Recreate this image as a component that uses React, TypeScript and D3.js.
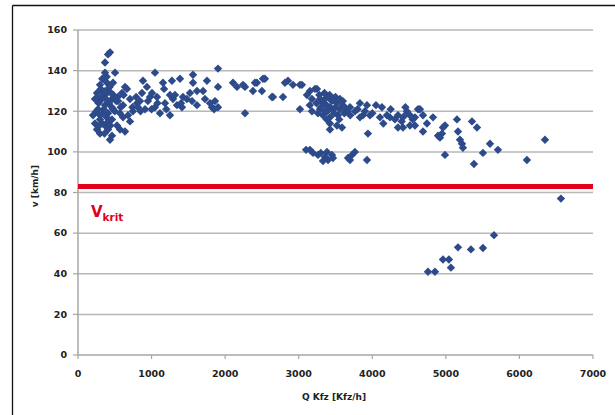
import React from 'react';
import * as d3 from 'd3';

// Q Kfz [Kfz/h], v [km/h] pairs, grouped by region
const lowFlow: [number, number][] = [
  [435, 149], [408, 148], [367, 144], [367, 139], [503, 139], [340, 136], [394, 134], [476, 134],
  [299, 133], [666, 131], [326, 130], [408, 130], [258, 129], [367, 128], [598, 129], [231, 126],
  [462, 126], [544, 125], [299, 125], [707, 126], [367, 123], [612, 123], [802, 124], [883, 135],
  [937, 132], [870, 129], [978, 127], [272, 121], [476, 121], [408, 119], [204, 118], [571, 119],
  [747, 120], [911, 121], [299, 116], [462, 116], [612, 117], [707, 115], [231, 114], [367, 113],
  [530, 113], [408, 111], [571, 111], [258, 111], [639, 110], [462, 108], [435, 106], [299, 109],
  [280, 124], [320, 127], [350, 121], [390, 117], [420, 124], [450, 129], [300, 118], [330, 114],
  [370, 130], [440, 113], [500, 120], [520, 125], [250, 120], [270, 127], [310, 131], [340, 119],
  [380, 126], [410, 115], [430, 132], [480, 128], [360, 109], [330, 136], [290, 113], [390, 137],
  [460, 122], [540, 127], [580, 122], [620, 128], [680, 118], [740, 122], [790, 127], [850, 120],
  [639, 132], [843, 125], [815, 122], [950, 125],
];

const midFlow: [number, number][] = [
  [1046, 139], [1563, 138], [1386, 136], [1277, 135], [1155, 134], [1753, 135], [1903, 141],
  [1903, 132], [2107, 134], [2161, 132], [2270, 132], [2432, 134], [2541, 136], [2378, 130],
  [2500, 130], [2636, 127], [1563, 134], [1617, 130], [1522, 129], [1427, 127], [1318, 128],
  [1291, 126], [1345, 123], [1413, 122], [1182, 124], [1074, 127], [1006, 129], [1617, 123],
  [1726, 126], [1794, 124], [1862, 125], [1903, 122], [1821, 122], [1114, 119], [1250, 118],
  [2270, 119], [1046, 122], [1000, 121], [1080, 124], [1200, 121], [1400, 124], [1480, 126],
  [1550, 125], [1850, 121], [2243, 133], [2405, 134], [2514, 136], [1250, 128], [1170, 131],
  [1700, 130],
];

const highFlow: [number, number][] = [
  [2854, 135], [2813, 134], [2922, 133], [3044, 133], [2786, 127], [2650, 127], [3153, 130],
  [3248, 131], [3112, 128], [3180, 126], [3289, 126], [3357, 126], [3466, 126], [3330, 124],
  [3520, 124], [3601, 123], [3425, 122], [3017, 121], [3180, 120], [3289, 121], [3262, 119],
  [3330, 118], [3425, 117], [3534, 118], [3656, 120], [3697, 122], [3764, 120], [3832, 124],
  [3928, 123], [3873, 118], [3968, 118], [3832, 117], [3425, 114], [3520, 113], [3588, 112],
  [3425, 111], [3941, 109], [4131, 122], [4104, 117], [4199, 118], [4240, 117], [4308, 116],
  [4349, 118], [4417, 117], [4471, 119], [4512, 118], [4580, 117], [4621, 121], [4689, 118],
  [4743, 114], [4512, 113], [4580, 113], [4689, 110], [4825, 117], [4417, 112], [4471, 120],
  [4349, 112], [4893, 108], [3221, 131], [3017, 133], [3400, 127], [3450, 125], [3500, 122],
  [3380, 123], [3560, 121], [3620, 119], [3480, 119], [3360, 120], [3300, 122], [3240, 124],
  [3600, 125], [3700, 118], [3550, 116], [3380, 116], [3800, 121], [3900, 120], [4000, 119],
  [4050, 123], [4150, 114], [4250, 121], [4400, 115], [4450, 122], [4550, 116], [4648, 121],
  [3150, 123], [3350, 129], [3420, 128], [3500, 127], [3560, 126], [3280, 128], [3620, 122],
  [3470, 121], [3390, 120],
];

const tailFlow: [number, number][] = [
  [5151, 116], [5355, 115], [5423, 112], [5165, 110], [4988, 113], [4961, 112], [4947, 109],
  [4920, 107], [5192, 106], [5219, 104], [5232, 102], [4988, 98.5], [5600, 104], [5708, 101],
  [5504, 99.5], [5382, 94], [6347, 106], [6102, 96],
];

const slowGroup: [number, number][] = [
  [3100, 101], [3153, 101], [3194, 99.5], [3262, 98.5], [3300, 99.5], [3384, 100], [3357, 97.5],
  [3452, 98.5], [3466, 97], [3398, 96], [3330, 95.5], [3697, 96], [3724, 98.5], [3764, 100],
  [3670, 97], [3928, 96],
];

const congested: [number, number][] = [
  [6564, 77], [5654, 59], [5504, 52.7], [5341, 52], [5165, 53], [4961, 47], [5042, 47],
  [5069, 43], [4757, 41], [4852, 41],
];

const xTicks = [0, 1000, 2000, 3000, 4000, 5000, 6000, 7000];
const yTicks = [0, 20, 40, 60, 80, 100, 120, 140, 160];
const vKrit = 83;

const allPoints = [...lowFlow, ...midFlow, ...highFlow, ...tailFlow, ...slowGroup, ...congested];

const W = 615;
const H = 415;
const left = 78, right = 593, top = 30, bottom = 355;
const font = '"DejaVu Sans", sans-serif';

export default function App() {
  const x = d3.scaleLinear().domain([0, 7000]).range([left, right]);
  const y = d3.scaleLinear().domain([0, 160]).range([bottom, top]);
  const r = 4.2;
  const diamond = `M0,${-r}L${r},0L0,${r}L${-r},0Z`;

  return (
    <svg width={W} height={H} style={{position: 'absolute', left: 0, top: 0, background: '#fff'}}>
      <rect x={0} y={0} width={W} height={H} fill="#fff"/>
      {/* outer frame (only top and left visible) */}
      <line x1={12.5} y1={5.5} x2={W} y2={5.5} stroke="#111" strokeWidth={1.3}/>
      <line x1={12.5} y1={5.5} x2={12.5} y2={H} stroke="#111" strokeWidth={1.3}/>

      {/* gridlines */}
      {yTicks.filter(t => t > 0).map(t => (
        <line key={'g' + t} x1={left} x2={right} y1={y(t)} y2={y(t)} stroke="#b8b8b8" strokeWidth={1.5}/>
      ))}

      {/* axes */}
      <line x1={left} x2={left} y1={top} y2={bottom} stroke="#a6a6a6" strokeWidth={1.5}/>
      <line x1={left} x2={right} y1={bottom} y2={bottom} stroke="#a6a6a6" strokeWidth={1.5}/>
      {yTicks.map(t => (
        <line key={'yt' + t} x1={left - 5} x2={left} y1={y(t)} y2={y(t)} stroke="#a6a6a6" strokeWidth={1.2}/>
      ))}
      {xTicks.map(t => (
        <line key={'xt' + t} x1={x(t)} x2={x(t)} y1={bottom} y2={bottom + 4} stroke="#a6a6a6" strokeWidth={1.2}/>
      ))}

      {/* tick labels */}
      {yTicks.map(t => (
        <text key={'yl' + t} x={67} y={y(t)} dy="0.35em" textAnchor="end"
              fontFamily={font} fontSize={9.5} fontWeight={700} fill="#222">{t}</text>
      ))}
      {xTicks.map(t => (
        <text key={'xl' + t} x={x(t)} y={377} textAnchor="middle"
              fontFamily={font} fontSize={9.5} fontWeight={700} fill="#222">{t}</text>
      ))}

      {/* axis titles */}
      <text x={334} y={400} textAnchor="middle" fontFamily={font} fontSize={9} fontWeight={700} fill="#222">
        Q Kfz [Kfz/h]
      </text>
      <text transform={`translate(38,186) rotate(-90)`} textAnchor="middle" fontFamily={font}
            fontSize={9} fontWeight={700} fill="#222">v [km/h]</text>

      {/* data points */}
      {allPoints.map((d, i) => (
        <path key={i} d={diamond} transform={`translate(${x(d[0])},${y(d[1])})`} fill="#2d4a8a"/>
      ))}

      {/* critical speed line */}
      <line x1={left} x2={right} y1={y(vKrit)} y2={y(vKrit)} stroke="#e3001b" strokeWidth={5}/>
      <text x={91} y={217} fontFamily={font} fontWeight={700} fill="#e3001b">
        <tspan fontSize={15}>V</tspan>
        <tspan fontSize={10.5} dy={4}>krit</tspan>
      </text>
    </svg>
  );
}
